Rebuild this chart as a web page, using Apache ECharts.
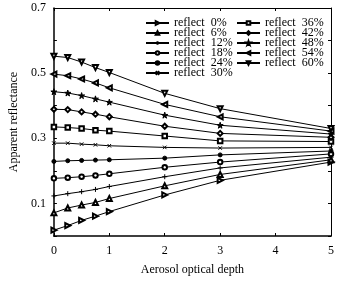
<!DOCTYPE html>
<html><head><meta charset="utf-8">
<script src="https://cdn.jsdelivr.net/npm/echarts@6/dist/echarts.min.js"></script>
<style>html,body{margin:0;padding:0;background:#fff}#c{width:349px;height:281px}</style>
</head><body><div id="c"></div>
<script>
const xValues = [0, 0.25, 0.5, 0.75, 1, 2, 3, 5];
const seriesNames = ['reflect  0%','reflect  6%','reflect  12%','reflect  18%','reflect  24%','reflect  30%',
  'reflect  36%','reflect  42%','reflect  48%','reflect  54%','reflect  60%'];
const r0  = [0.018, 0.032, 0.048, 0.061, 0.075, 0.126, 0.171, 0.227];
const r6  = [0.071, 0.086, 0.095, 0.103, 0.115, 0.154, 0.189, 0.234];
const r12 = [0.123, 0.130, 0.136, 0.143, 0.152, 0.182, 0.209, 0.242];
const r18 = [0.177, 0.179, 0.182, 0.186, 0.191, 0.211, 0.227, 0.252];
const r24 = [0.229, 0.231, 0.232, 0.233, 0.234, 0.239, 0.249, 0.261];
const r30 = [0.285, 0.285, 0.282, 0.280, 0.277, 0.272, 0.270, 0.272];
const r36 = [0.335, 0.333, 0.330, 0.325, 0.322, 0.307, 0.292, 0.290];
const r42 = [0.389, 0.388, 0.381, 0.374, 0.366, 0.337, 0.315, 0.303];
const r48 = [0.443, 0.439, 0.431, 0.421, 0.411, 0.371, 0.340, 0.313];
const r54 = [0.497, 0.492, 0.482, 0.470, 0.455, 0.404, 0.366, 0.322];
const r60 = [0.552, 0.548, 0.534, 0.517, 0.502, 0.438, 0.391, 0.330];
const allValues = [r0, r6, r12, r18, r24, r30, r36, r42, r48, r54, r60];
const yLabelShown = [1, 3, 5, 7];

const STAR = 'path://M50,0L61,35L98,35L68,57L79,91L50,70L21,91L32,57L2,35L39,35Z';
const PLUS = 'path://M0,5L10,5M5,0L5,10';
const CROSS = 'path://M0,0L10,10M0,10L10,0';
const symbols = [
  {s:'emptyTriangle', r:-90, z:5},
  {s:'emptyTriangle', r:0, z:5},
  {s:PLUS, r:0, z:5},
  {s:'emptyCircle', r:0, z:4.5},
  {s:'circle', r:0, z:4},
  {s:CROSS, r:0, z:3.5},
  {s:'emptyRect', r:0, z:4.5},
  {s:'emptyDiamond', r:0, z:5},
  {s:STAR, r:0, z:6},
  {s:'emptyTriangle', r:90, z:5},
  {s:'emptyTriangle', r:180, z:5}
];
const FONT = '"Liberation Serif", "DejaVu Serif", serif';

const series = allValues.map((vals, i) => ({
  name: seriesNames[i],
  type: 'line',
  data: xValues.map((x, j) => [x, vals[j]]),
  symbol: symbols[i].s,
  symbolRotate: symbols[i].r,
  symbolSize: symbols[i].z,
  showSymbol: true,
  lineStyle: {color:'#000', width:1},
  itemStyle: {color:'#000', borderColor:'#000', borderWidth:1},
  emphasis: {disabled:true},
  animation: false
}));

const axisLineStyle = (w) => ({show:true, onZero:false, lineStyle:{color:'#000', width:w}});
const legendBase = {orient:'vertical', top:17, itemWidth:23, itemHeight:4.5, itemGap:-2,
  textStyle:{fontFamily:FONT, fontSize:12, color:'#000'}, padding:0, selectedMode:false};
const chart = echarts.init(document.getElementById('c'), null, {renderer:'canvas'});
chart.setOption({
  backgroundColor:'#fff',
  animation:false,
  grid:{left:51, right:18, top:8, bottom:42, containLabel:false},
  legend:[
    Object.assign({data: seriesNames.slice(0,6), left:145}, legendBase),
    Object.assign({data: seriesNames.slice(6), left:236}, legendBase)
  ],
  xAxis:[
    {type:'value', min:0, max:5, interval:1, position:'bottom',
     axisLine:axisLineStyle(1.5), axisTick:{inside:true, length:3, lineStyle:{color:'#000'}},
     axisLabel:{color:'#000', fontFamily:FONT, fontSize:12, margin:9},
     splitLine:{show:false},
     name:'Aerosol optical depth', nameLocation:'middle', nameGap:28,
     nameTextStyle:{color:'#000', fontFamily:FONT, fontSize:12}},
    {type:'value', min:0, max:5, interval:1, position:'top',
     axisLine:axisLineStyle(1), axisTick:{inside:true, length:3, lineStyle:{color:'#000'}},
     axisLabel:{show:false}, splitLine:{show:false}}
  ],
  yAxis:[
    {type:'value', min:0, max:0.7, interval:0.1, position:'left',
     axisLine:axisLineStyle(1.5), axisTick:{inside:true, length:3, lineStyle:{color:'#000'}},
     axisLabel:{color:'#000', fontFamily:FONT, fontSize:12, margin:8,
       formatter:(v)=> yLabelShown.includes(Math.round(v*10)) ? v.toFixed(1) : ''},
     splitLine:{show:false},
     name:'Apparent reflectance', nameLocation:'middle', nameGap:30,
     nameTextStyle:{color:'#000', fontFamily:FONT, fontSize:12}},
    {type:'value', min:0, max:0.7, interval:0.1, position:'right',
     axisLine:axisLineStyle(1), axisTick:{inside:true, length:3, lineStyle:{color:'#000'}},
     axisLabel:{show:false}, splitLine:{show:false}}
  ],
  series: series
});
</script></body></html>
